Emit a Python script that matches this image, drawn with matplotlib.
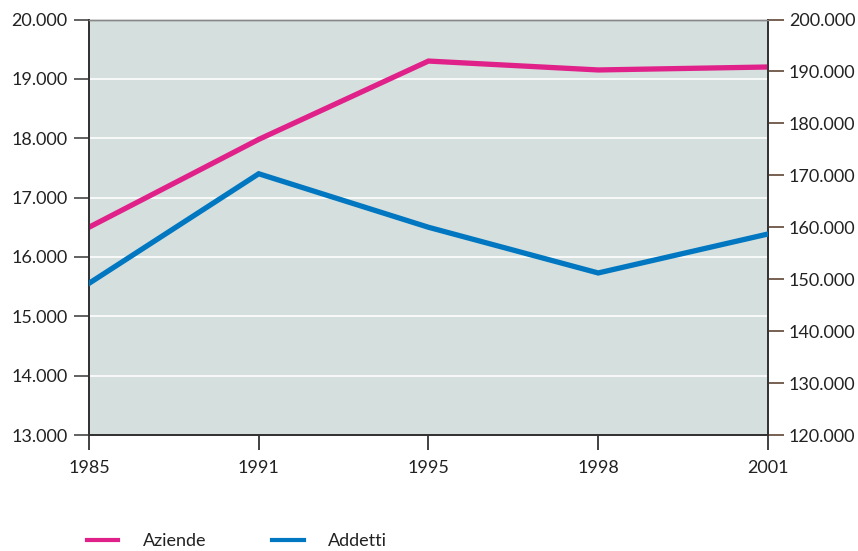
import matplotlib
matplotlib.use("Agg")
import matplotlib.pyplot as plt
from matplotlib.ticker import FuncFormatter
from matplotlib.lines import Line2D

years = ["1985", "1991", "1995", "1998", "2001"]
aziende = [16500, 17980, 19300, 19150, 19200]
addetti = [149200, 170300, 160000, 151200, 158700]
left_ticks = [13000, 14000, 15000, 16000, 17000, 18000, 19000, 20000]
right_ticks = [120000, 130000, 140000, 150000, 160000, 170000, 180000, 190000, 200000]

plt.rcParams['font.family'] = ['Lato', 'DejaVu Sans']

def fmt(v, pos):
    return f"{int(v):,}".replace(",", ".")

fig = plt.figure(figsize=(8.58, 5.51), dpi=100)
ax = fig.add_axes([0.1037, 0.2105, 0.7913, 0.7541])
ax.set_facecolor('#d5dfdd')
x = list(range(len(years)))

ax.set_ylim(13000, 20000)
ax.set_xlim(0, len(years) - 1)
ax.set_yticks(left_ticks)
ax.yaxis.set_major_formatter(FuncFormatter(fmt))
ax.set_xticks(x)
ax.set_xticklabels(years)
ax.grid(axis='y', color='white', linewidth=1.2)
ax.set_axisbelow(True)

l1, = ax.plot(x, aziende, color='#e0218a', linewidth=3.8, label='Aziende', zorder=3, solid_joinstyle='miter')

ax2 = ax.twinx()
ax2.set_ylim(120000, 200000)
ax2.set_yticks(right_ticks)
ax2.yaxis.set_major_formatter(FuncFormatter(fmt))
l2, = ax2.plot(x, addetti, color='#0077c0', linewidth=3.8, label='Addetti', zorder=3, solid_joinstyle='miter')

for a in (ax, ax2):
    a.spines['top'].set_color('#888888')
    a.spines['top'].set_linewidth(1.0)
    a.spines['left'].set_color('#333333')
    a.spines['right'].set_color('#333333')
    a.spines['bottom'].set_color('#333333')
    for s in ('left', 'right', 'bottom'):
        a.spines[s].set_linewidth(1.3)

fs = 13
ax.tick_params(axis='y', length=11, width=1.3, color='#555555', labelsize=fs, pad=4.5, labelcolor='#222222')
ax.tick_params(axis='x', length=11, width=1.3, color='#333333', labelsize=fs, pad=7, labelcolor='#222222')
ax2.tick_params(axis='y', length=11.5, width=1.3, color='#6b5444', labelsize=fs, pad=3.5, labelcolor='#222222')

h1 = Line2D([], [], color='#e0218a', linewidth=3.0)
h2 = Line2D([], [], color='#0077c0', linewidth=3.0)
fig.legend(handles=[h1, h2], labels=['Aziende', 'Addetti'], loc='center left',
           bbox_to_anchor=(0.101, 0.018), ncol=2, borderpad=0, borderaxespad=0,
           frameon=False, fontsize=fs, handlelength=1.75, handletextpad=1.35,
           columnspacing=3.65, labelcolor='#222222')

fig.savefig('out.png', dpi=100)
